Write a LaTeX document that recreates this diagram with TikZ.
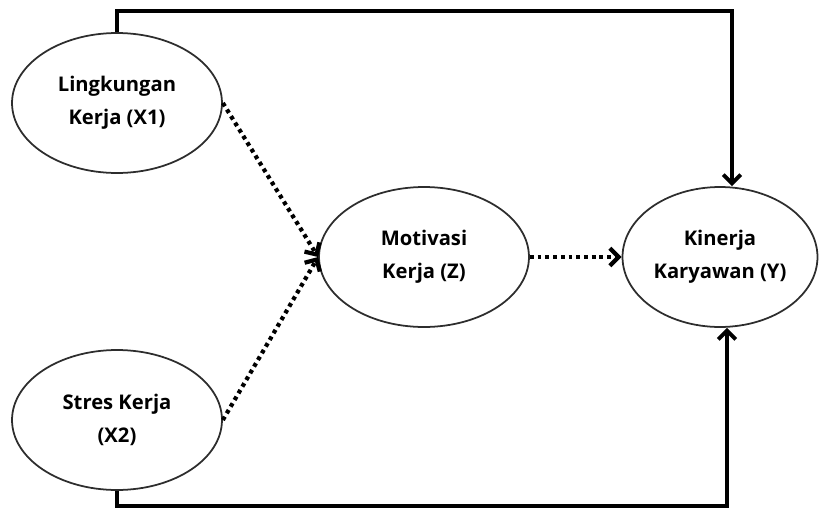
\documentclass[tikz,border=0pt]{standalone}
\usepackage{fontspec}
\setmainfont{Open Sans}
\usetikzlibrary{shapes.geometric, arrows.meta, positioning}
\definecolor{edgegray}{RGB}{45,45,45}

\begin{document}
\begin{tikzpicture}[x=0.02cm, y=-0.02cm,
  var/.style={
    ellipse, draw=edgegray, line width=1pt,
    inner sep=0pt, minimum width=4.2cm, minimum height=2.8cm,
    align=center, font=\fontsize{11.5}{19}\selectfont\bfseries
  },
  direct/.style={-{Straight Barb[length=5pt, width=10pt]}, line width=2.2pt},
  indirect/.style={-{Straight Barb[length=5pt, width=10pt]}, line width=2.4pt,
    dash pattern=on 2.2pt off 2.2pt}
]
  \useasboundingbox (0,0) rectangle (819,511);

  \node[var] (x1) at (117,103) {Lingkungan\\Kerja (X1)};
  \node[var] (x2) at (117,420) {Stres Kerja\\(X2)};
  \node[var] (z) at (424,257) {Motivasi\\Kerja (Z)};
  \node[var, minimum width=3.9cm, inner xsep=-2pt] (y) at (720,257) {Kinerja\\Karyawan (Y)};

  \coordinate (topleft) at (117,11);
  \coordinate (topright) at (732,11);
  \coordinate (botleft) at (117,506);
  \coordinate (botright) at (727,506);

  \draw[indirect] (x1.east) -- (z.west);
  \draw[indirect] (x2.east) -- (z.west);
  \draw[indirect] (z.east) -- (y.west);

  \draw[direct] (x1.north) -- (topleft) -- (topright) -- (topright |- y.north);
  \draw[direct] (x2.south) -- (botleft) -- (botright) -- (botright |- y.south);
\end{tikzpicture}
\end{document}
